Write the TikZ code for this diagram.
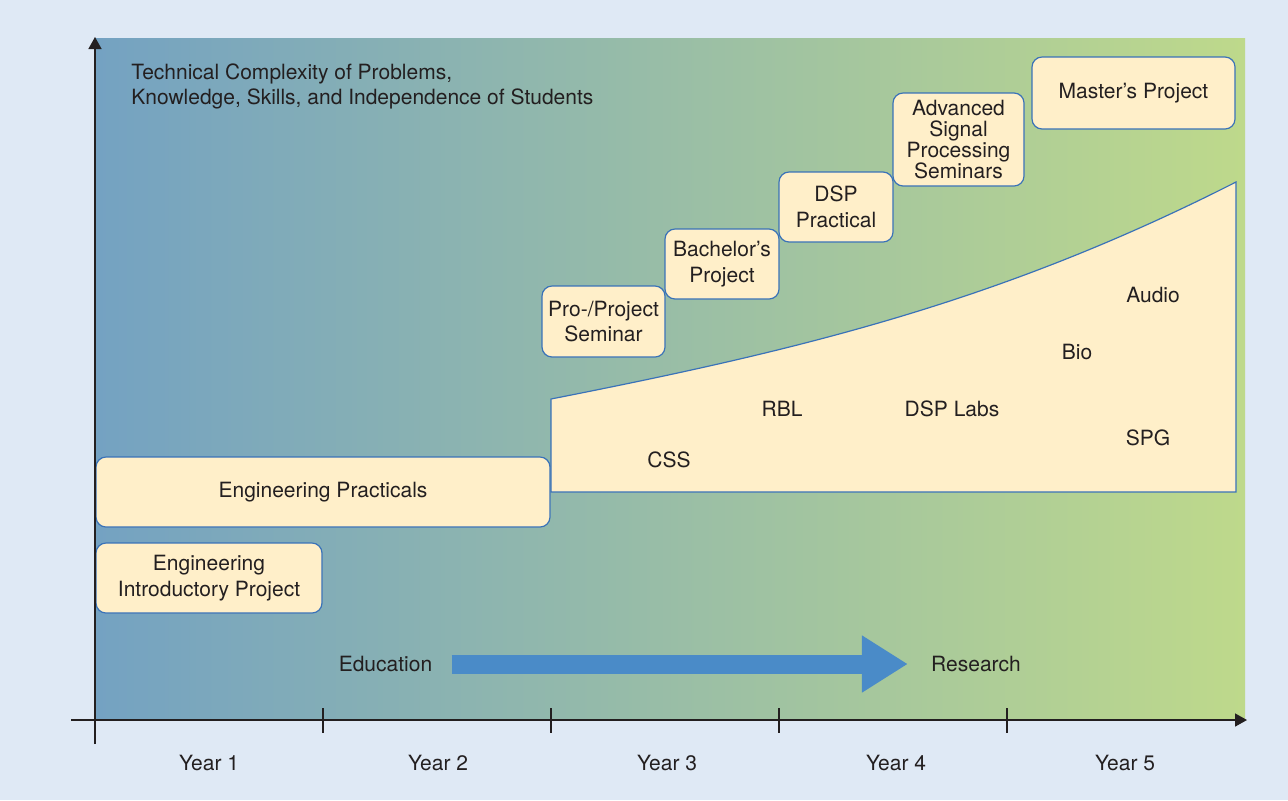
\documentclass[tikz,border=0pt]{standalone}
\usepackage{fontspec}
\setmainfont{TeX Gyre Heros}
\usetikzlibrary{arrows.meta}
\definecolor{pagebg}{HTML}{DFE9F5}
\definecolor{plotleft}{HTML}{74A2C2}
\definecolor{plotright}{HTML}{BED98B}
\definecolor{boxfill}{HTML}{FFEFC9}
\definecolor{boxline}{HTML}{3A72B8}
\definecolor{flowblue}{HTML}{4A8BC8}
\definecolor{inktext}{HTML}{231F20}
\tikzstyle{course}=[draw=boxline,fill=boxfill,line width=0.6pt,rounded corners=5pt,align=center,inner sep=0pt,text=inktext]
\tikzstyle{plain}=[inner sep=0pt,text=inktext]
\tikzstyle{axis}=[draw=inktext,line width=0.75pt]
\tikzstyle{flow}=[draw=flowblue,line width=9.5pt,-{Triangle[length=23pt,width=27pt]}]

\begin{document}
\begin{tikzpicture}[x=0.5pt,y=-0.5pt,font=\fontsize{10.5}{12.8}\selectfont]
    % Page and the shaded plot area
    \useasboundingbox (0,0) rectangle (1288,800);
    \fill[pagebg] (0,0) rectangle (1288,800);
    \shade[left color=plotleft,right color=plotright] (95,38) rectangle (1245,720);
    % Growing area of research topics
    \filldraw[fill=boxfill,draw=boxline,line width=0.6pt] (551,492) -- (551,399)
        .. controls (800,350) and (1000,302) .. (1236,182) -- (1236,492) -- cycle;
    \foreach \pos/\name/\txt in {{(669,460)/css/CSS}, {(782,409)/rbl/RBL}, {(952,409)/dsplabs/DSP Labs},
        {(1077,352)/bio/Bio}, {(1153,295)/audio/Audio}, {(1148,438)/spg/SPG}}
        \node[plain] (\name) at \pos {\txt};
    % Courses as boxes
    \node[course,minimum width=113pt,minimum height=35pt] (intro) at (209,578) {Engineering\\Introductory Project};
    \node[course,minimum width=227pt,minimum height=35pt] (practicals) at (323,492) {Engineering Practicals};
    \node[course,minimum width=61.5pt,minimum height=35.5pt] (proseminar) at (603.5,321.5) {Pro-/Project\\Seminar};
    \node[course,minimum width=57pt,minimum height=35pt] (bachelor) at (722,264) {Bachelor’s\\Project};
    \node[course,minimum width=57pt,minimum height=35pt] (dsppractical) at (836,207) {DSP\\Practical};
    \node[course,minimum width=65.5pt,minimum height=46.5pt,font=\fontsize{10.5}{10.4}\selectfont] (advanced) at (958.5,139.5) {Advanced\\Signal\\Processing\\Seminars};
    \node[course,minimum width=101.5pt,minimum height=36pt] (masters) at (1133.5,93) {Master’s Project};
    % Axes with ticks and years
    \coordinate (origin) at (95,720);
    \coordinate (ytop) at (95,37);
    \coordinate (ybottom) at (95,744);
    \coordinate (xleft) at (71,720);
    \coordinate (xright) at (1247,720);
    \draw[axis,-{Triangle[length=6pt,width=6.5pt]}] (ybottom) -- (ytop);
    \draw[axis,-{Triangle[length=6pt,width=6.5pt]}] (xleft) -- (xright);
    \foreach \x in {323,551,779,1007}
        \draw[axis] (\x,708) -- (\x,733);
    \foreach \x/\n in {209/1, 438/2, 667/3, 896/4, 1125/5}
        \node[plain] (year\n) at (\x,763) {Year \n};
    \node[plain,align=left,anchor=west] (title) at (131,86.5) {Technical Complexity of Problems,\\Knowledge, Skills, and Independence of Students};
    % From education to research
    \node[plain] (edu) at (385.5,664) {Education};
    \node[plain] (res) at (976,664) {Research};
    \draw[flow,shorten <=9.5pt,shorten >=11.5pt] (edu) -- (res);
\end{tikzpicture}
\end{document}
